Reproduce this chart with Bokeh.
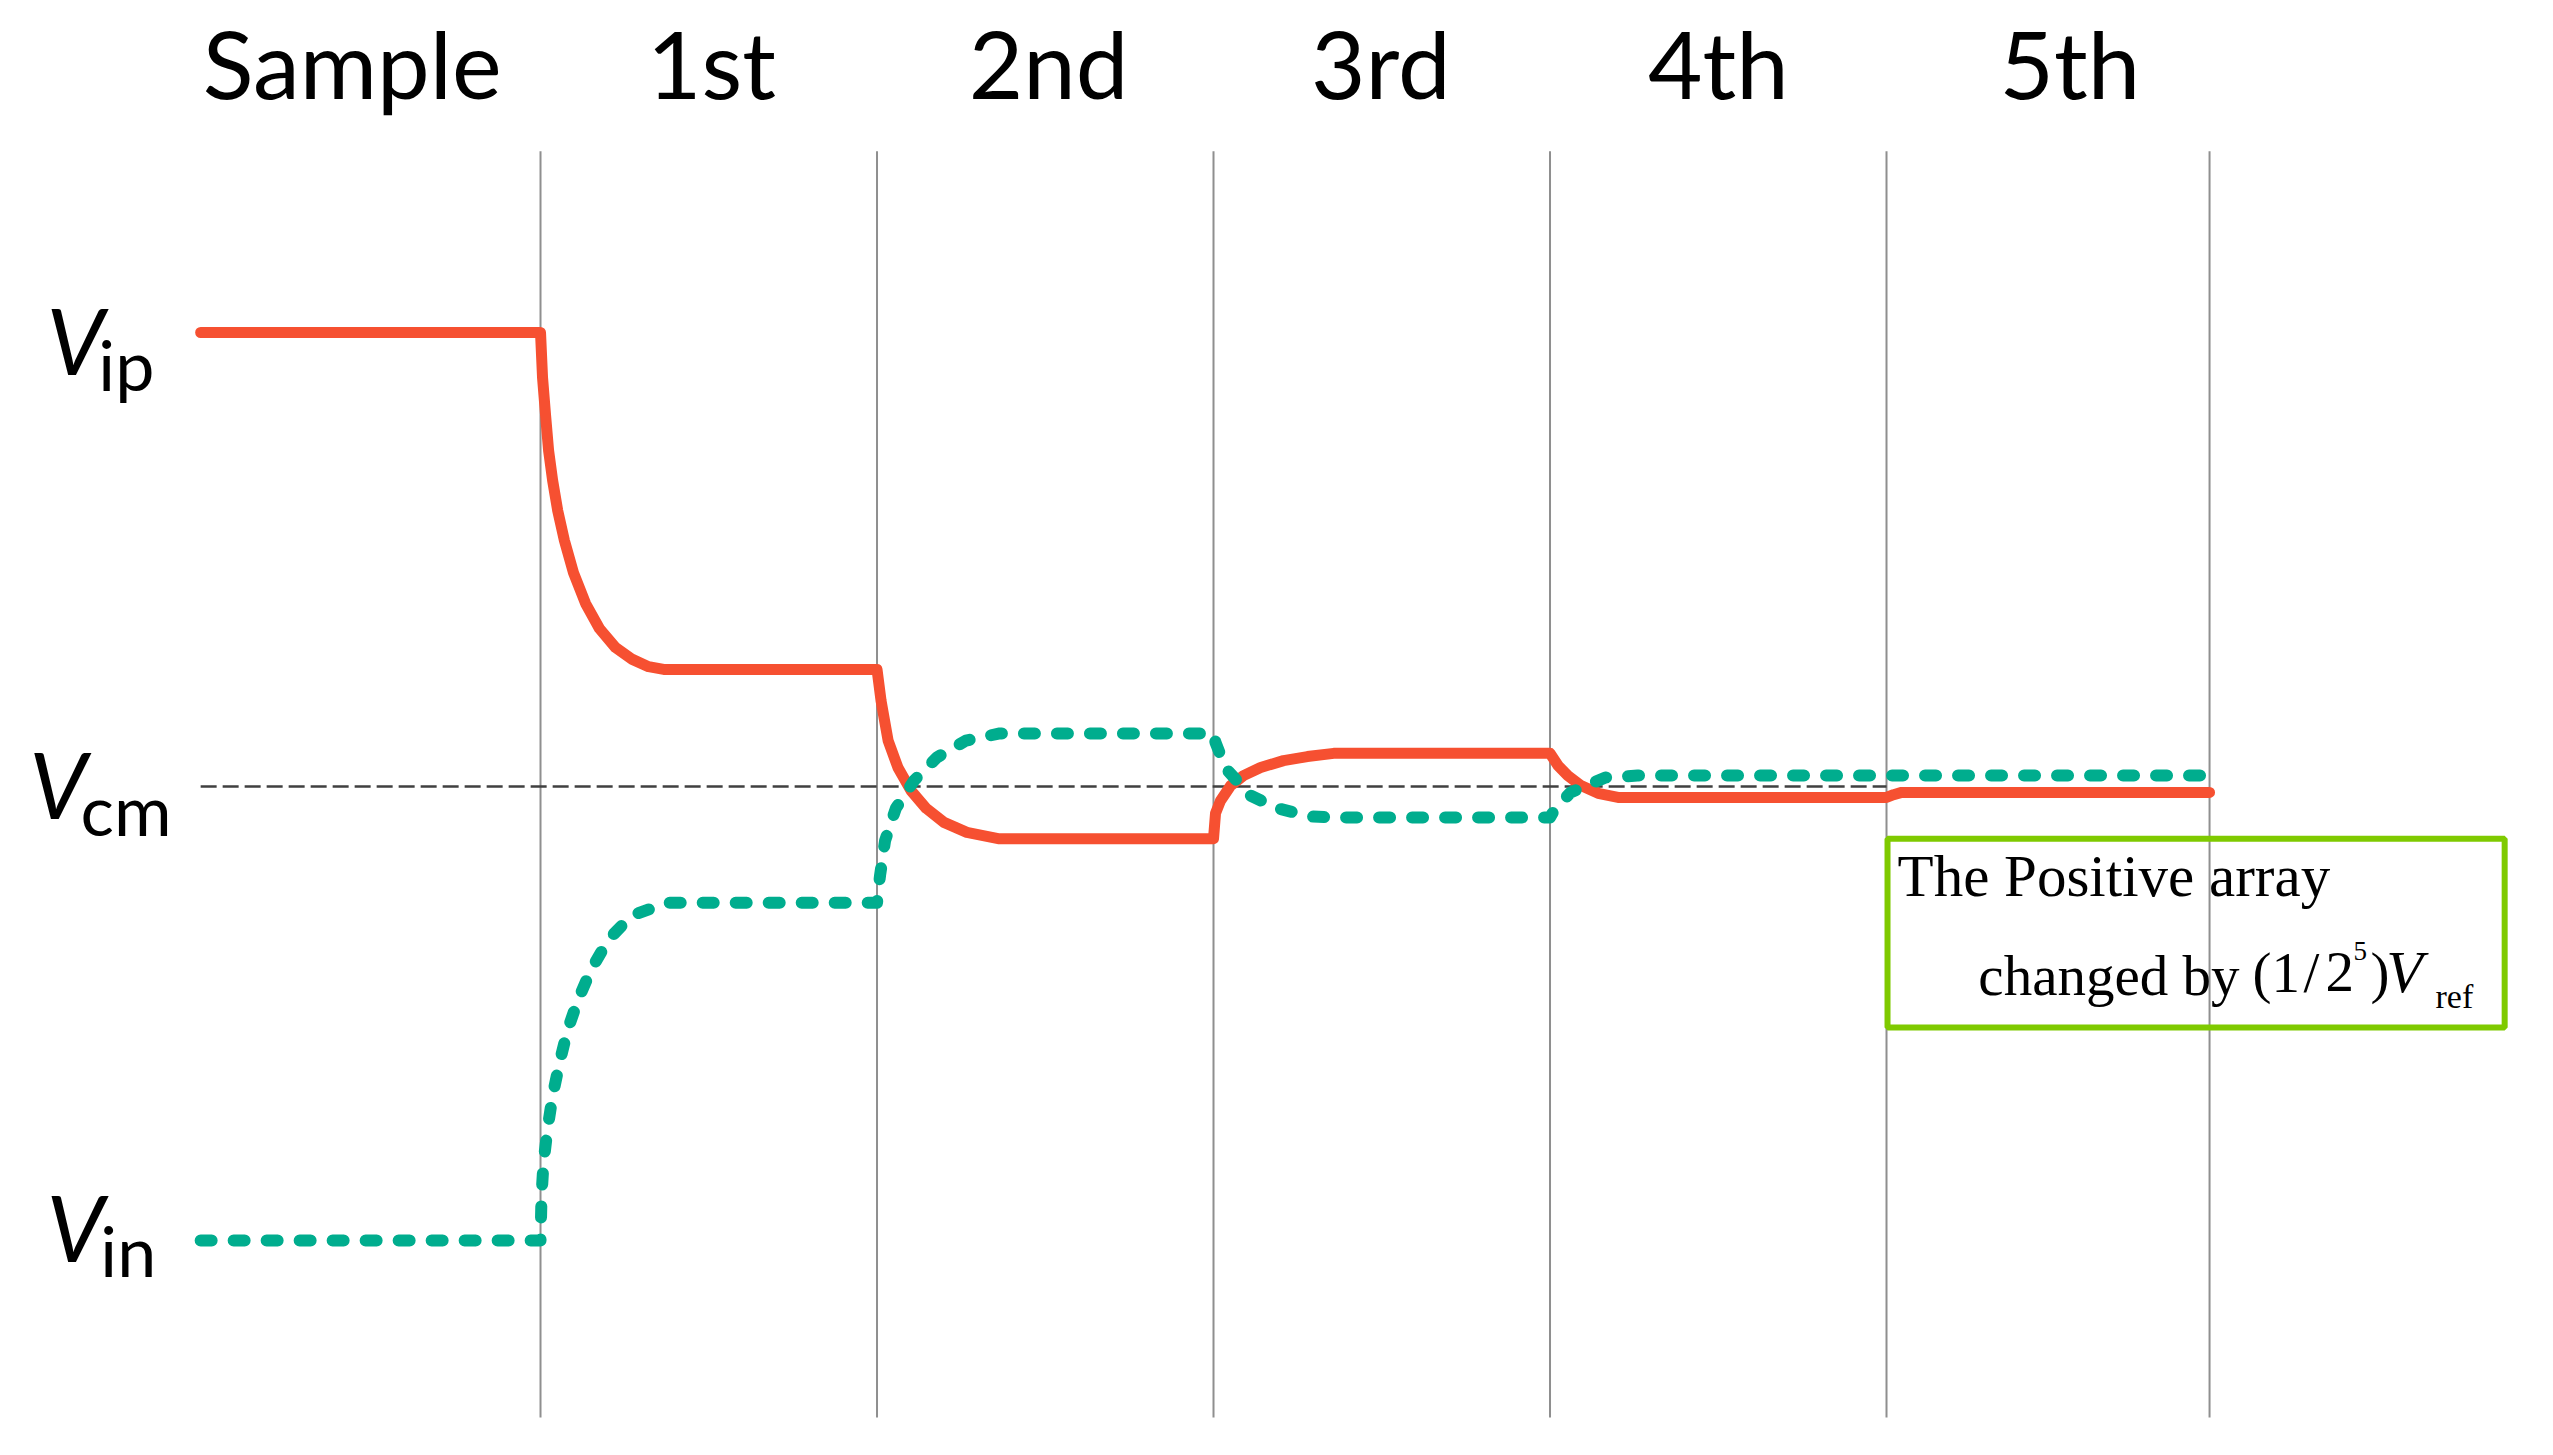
from bokeh.plotting import figure
from bokeh.models import Range1d, BoxAnnotation
from bokeh.core.properties import value
from bokeh.embed import file_html
from bokeh.resources import INLINE

# ---------------- data (time in conversion phases, voltage normalised: Vcm = 0, Vip = +1, Vin = -1)
PHASES = ["Sample", "1st", "2nd", "3rd", "4th", "5th"]
PHASE_LABEL_T = [0.44, 1.508, 2.51, 3.497, 4.50, 5.545]
BOUNDARIES = [1, 2, 3, 4, 5, 5.96]
LEVEL_NAMES = ["V", "V", "V"]
LEVEL_SUBS = ["ip", "cm", "in"]

VP_T = [-0.010, 1.000, 1.006, 1.015, 1.024, 1.036, 1.051, 1.071, 1.098, 1.134, 1.175, 1.223, 1.273, 1.321, 1.366,
        2.000, 2.012, 2.033, 2.062, 2.101, 2.146, 2.199, 2.267, 2.360,
        3.000, 3.006, 3.021, 3.051, 3.089, 3.140, 3.208, 3.279, 3.357,
        4.000, 4.024, 4.053, 4.092, 4.143, 4.202,
        5.000, 5.021, 5.045, 5.960]
VP_V = [1.000, 1.000, 0.901, 0.818, 0.740, 0.674, 0.608, 0.542, 0.471, 0.403, 0.348, 0.306, 0.280, 0.264, 0.258,
        0.258, 0.189, 0.101, 0.042, -0.009, -0.048, -0.079, -0.101, -0.115,
        -0.115, -0.059, -0.031, 0.002, 0.024, 0.042, 0.057, 0.066, 0.073,
        0.073, 0.046, 0.024, 0.002, -0.015, -0.024,
        -0.024, -0.018, -0.013, -0.013]

VN_T = [-0.010, 1.000, 1.003, 1.009, 1.021, 1.036, 1.056, 1.080, 1.113, 1.152, 1.202, 1.271, 1.378,
        2.000, 2.009, 2.024, 2.056, 2.110, 2.178, 2.264, 2.365,
        3.000, 3.006, 3.036, 3.110, 3.190, 3.288, 3.348,
        4.000, 4.012, 4.061, 4.165, 4.260,
        5.960]
VN_V = [-1.000, -1.000, -0.901, -0.828, -0.753, -0.681, -0.610, -0.537, -0.467, -0.401, -0.337, -0.284, -0.256,
        -0.256, -0.196, -0.119, -0.048, 0.013, 0.064, 0.101, 0.117,
        0.117, 0.097, 0.040, -0.020, -0.048, -0.066, -0.068,
        -0.068, -0.053, -0.013, 0.020, 0.024,
        0.024]

VCM_T = [-0.010, 5.0]
VCM_V = [0.0, 0.0]

# ---------------- layout
W, H = 2537, 1439
X_RANGE = (-0.6048, 6.9346)
Y_RANGE = (-1.4383, 1.7313)

RED = "#F65031"
TEAL = "#00AD8E"
BOXG = "#7FCA00"

p = figure(width=W, height=H, output_backend="svg", toolbar_location=None,
           x_range=Range1d(*X_RANGE), y_range=Range1d(*Y_RANGE),
           x_axis_location=None, y_axis_location=None, min_border=0)
p.grid.visible = False
p.outline_line_color = None
p.background_fill_color = "white"
p.border_fill_color = "white"

# phase boundaries
p.segment(x0=BOUNDARIES, x1=BOUNDARIES, y0=[1.399] * len(BOUNDARIES), y1=[-1.390] * len(BOUNDARIES),
          line_color="#8F8F8F", line_width=2)

# common mode reference
p.line(VCM_T, VCM_V, line_color="#404040", line_width=2.5, line_dash="16 6")

# positive / negative array
p.line(VP_T, VP_V, line_color=RED, line_width=11, line_cap="round", line_join="round")
p.line(VN_T, VN_V, line_color=TEAL, line_width=12, line_dash="11 22", line_cap="round", line_join="round")

# phase headers
p.text(x=PHASE_LABEL_T, y=[1.594] * len(PHASES), text=PHASES, text_align="center",
       text_baseline="alphabetic", text_font=value("Lato"), text_font_size="94px", text_color="black")

# level labels
p.text(x=[-0.468, -0.519, -0.468], y=[0.984, 0.006, -0.970], text=LEVEL_NAMES,
       text_align="left", text_baseline="alphabetic", text_font=value("Lato"),
       text_font_style="italic", text_font_size="92px", text_color="black")
p.text(x=[-0.314, -0.367, -0.308], y=[0.931, -0.049, -1.021], text=LEVEL_SUBS,
       text_align="left", text_baseline="alphabetic", text_font=value("Lato"),
       text_font_size="70px", text_color="black")

# annotation box
p.add_layout(BoxAnnotation(left=5.003, right=6.837, top=-0.115, bottom=-0.531,
                           fill_alpha=0, line_color=BOXG, line_alpha=1.0, line_width=6))
SERIF = value("Liberation Serif")
common = dict(text_font=SERIF, text_baseline="alphabetic", text_color="black", text_align="left")
p.text(x=[5.033], y=[-0.1974], text=["The Positive array"], text_font_size="59px", **common)
p.text(x=[5.273], y=[-0.4154], text=["changed by"], text_font_size="57px", **common)
p.text(x=[6.0877, 6.2392, 6.3046, 6.4383], y=[-0.4088] * 4, text=["(1", "/", "2", ")"],
       text_font_size="57px", **common)
p.text(x=[6.3878], y=[-0.3631], text=["5"], text_font_size="27px", **common)
p.text(x=[6.485], y=[-0.4088], text=["V"], text_font_style="italic", text_font_size="60px", **common)
p.text(x=[6.6315], y=[-0.4635], text=["ref"], text_font_size="34px", **common)

open("out.html", "w").write(file_html(p, INLINE))
